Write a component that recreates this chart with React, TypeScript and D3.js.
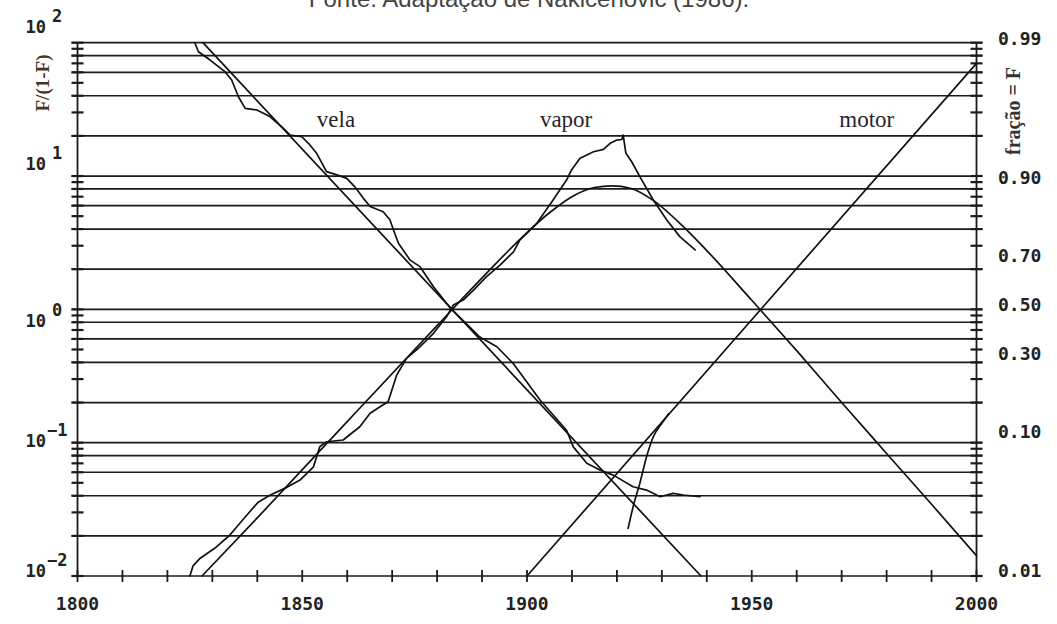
import React from 'react';
import * as d3 from 'd3';

// ---------- data ----------
const yearDomain = [1800, 2000];
const ratioDomain = [0.01, 100];
const xTickYears = [1800, 1810, 1820, 1830, 1840, 1850, 1860, 1870, 1880, 1890, 1900, 1910, 1920, 1930, 1940, 1950, 1960, 1970, 1980, 1990, 2000];
const xLabelYears = [1800, 1850, 1900, 1950, 2000];
const decadeExponents = [-2, -1, 0, 1];
const gridMultipliers = [1, 2, 4, 6, 8];
const tickMultipliers = [1, 2, 3, 4, 5, 6, 7, 8, 9];
const leftExponents = [2, 1, 0, -1, -2];
const rightFractions = [0.99, 0.9, 0.7, 0.5, 0.3, 0.1, 0.01];
const rightLabels = ['0.99', '0.90', '0.70', '0.50', '0.30', '0.10', '0.01'];

const curveNames = ['vela', 'vapor', 'motor'];
const curveNameYears = [1857.5, 1908.7, 1975.6];
const curveNameValue = 27;

// fitted logistic lines (F/(1-F))
const velaFitYears = [1827.9, 1938.7];
const velaFitValues = [100, 0.01];
const motorFitYears = [1900, 2000];
const motorFitValues = [0.01, 70];
const vaporFitYears = [1827.7, 1840, 1860, 1880, 1890, 1900, 1905, 1910, 1915, 1919, 1923, 1928, 1935, 1940, 1950, 1960, 1970, 1980, 1990, 2000];
const vaporFitValues = [0.01, 0.0273, 0.144, 0.755, 1.72, 3.77, 5.3, 7.0, 8.2, 8.45, 8.1, 6.6, 4.1, 2.76, 1.17, 0.49, 0.2, 0.083, 0.0345, 0.0142];

// observed data
const velaYears = [1826.1, 1826.9, 1829.5, 1832.8, 1834.3, 1835.8, 1837.3, 1839.9, 1842.8, 1845.8, 1847.3, 1849.9, 1851.7, 1853.2, 1855.4, 1857.7, 1859.9, 1861.7, 1863.6, 1865.1, 1868.0, 1869.5, 1870.3, 1871.4, 1874.0, 1876.2, 1879.2, 1882.1, 1883.2, 1886.2, 1889.5, 1893.3, 1896.9, 1902.9, 1908.8, 1910.3, 1913.3, 1916.2, 1919.2, 1923.6, 1926.6, 1929.6, 1932.5, 1934.8, 1938.5];
const velaValues = [100, 85.6, 74.1, 60.6, 52.5, 39.3, 32.2, 31.3, 27.9, 22.8, 20.3, 19.7, 17.1, 14.8, 10.8, 10.2, 9.6, 8.3, 6.8, 5.9, 5.4, 4.7, 3.94, 3.13, 2.34, 2.09, 1.48, 1.11, 1.0, 0.8, 0.62, 0.524, 0.394, 0.209, 0.124, 0.093, 0.07, 0.0623, 0.0571, 0.0467, 0.0441, 0.0393, 0.0417, 0.0405, 0.0393];

const vaporYears = [1825.0, 1825.7, 1827.3, 1830.6, 1833.9, 1837.3, 1840.2, 1842.8, 1846.2, 1849.5, 1852.5, 1853.9, 1855.4, 1859.1, 1862.8, 1865.1, 1867.3, 1869.1, 1871.0, 1873.2, 1876.2, 1879.2, 1882.1, 1883.6, 1885.8, 1888.1, 1891.0, 1894.0, 1897.0, 1898.4, 1902.2, 1905.8, 1908.8, 1909.9, 1911.8, 1914.8, 1917.0, 1918.5, 1920.0, 1921.1, 1921.4, 1922.0, 1923.3, 1925.1, 1928.1, 1931.1, 1934.0, 1937.4];
const vaporValues = [0.01, 0.0119, 0.0136, 0.0162, 0.0203, 0.0277, 0.0358, 0.0404, 0.0456, 0.0524, 0.0659, 0.0932, 0.1016, 0.1047, 0.1317, 0.166, 0.186, 0.203, 0.321, 0.429, 0.524, 0.661, 0.88, 1.077, 1.174, 1.396, 1.757, 2.15, 2.7, 3.31, 4.42, 6.61, 9.33, 11.1, 13.6, 15.2, 15.85, 17.6, 18.6, 18.8, 20.3, 14.8, 12.8, 9.9, 6.61, 4.68, 3.51, 2.79];

const motorYears = [1922.5, 1923.6, 1925.1, 1926.6, 1928.1, 1930.0, 1931.5];
const motorValues = [0.0228, 0.033, 0.0495, 0.0784, 0.1107, 0.1396, 0.165];

// ---------- chart ----------
const W = 1057;
const H = 624;
const left = 77.5;
const right = 976.5;
const top = 42.7;
const bottom = 576;

const leftLabelNudge = [-16, -12, 12, -2, -5];
const INK = '#1b1b1b';

export default function App() {
  const x = d3.scaleLinear().domain(yearDomain).range([left, right]);
  const y = d3.scaleLog().domain(ratioDomain).range([bottom, top]);

  const gridValues: number[] = [];
  decadeExponents.forEach((e) => gridMultipliers.forEach((m) => gridValues.push(m * Math.pow(10, e))));
  gridValues.push(100);
  const tickValues: number[] = [];
  decadeExponents.forEach((e) => tickMultipliers.forEach((m) => tickValues.push(m * Math.pow(10, e))));
  tickValues.push(100);

  const line = d3
    .line<[number, number]>()
    .x((d) => x(d[0]))
    .y((d) => y(d[1]));
  const smooth = d3
    .line<[number, number]>()
    .x((d) => x(d[0]))
    .y((d) => y(d[1]))
    .curve(d3.curveMonotoneX);

  const zip = (a: number[], b: number[]) => a.map((v, i) => [v, b[i]] as [number, number]);

  const paths = [
    { d: line(zip(velaFitYears, velaFitValues)) },
    { d: line(zip(motorFitYears, motorFitValues)) },
    { d: smooth(zip(vaporFitYears, vaporFitValues)) },
    { d: line(zip(velaYears, velaValues)) },
    { d: line(zip(vaporYears, vaporValues)) },
    { d: smooth(zip(motorYears, motorValues)) },
  ];

  const mono = "'DejaVu Sans Mono', monospace";
  const serif = "'Liberation Serif', 'DejaVu Serif', serif";

  return (
    <svg width={W} height={H} style={{ position: 'absolute', left: 0, top: 0, background: '#fff' }}>
      <rect x={0} y={0} width={W} height={H} fill="#fff" />
      <text x={529} y={7} textAnchor="middle" fontFamily="'Liberation Sans', Arial, sans-serif" fontSize={24} fill="#444">
        Fonte: Adaptação de Nakicenovic (1986).
      </text>

      {/* gridlines */}
      {gridValues.map((v, i) => (
        <line key={'g' + i} x1={left - 6} x2={right + 6} y1={y(v)} y2={y(v)} stroke={INK} strokeWidth={1.7} />
      ))}
      {/* axis lines */}
      <line x1={left} x2={left} y1={top} y2={bottom} stroke={INK} strokeWidth={1.8} />
      <line x1={right} x2={right} y1={top} y2={bottom} stroke={INK} strokeWidth={1.8} />
      {tickValues.map((v, i) => (
        <g key={'t' + i}>
          <line x1={left - 6} x2={left + 6} y1={y(v)} y2={y(v)} stroke={INK} strokeWidth={2.2} />
          <line x1={right - 6} x2={right + 6} y1={y(v)} y2={y(v)} stroke={INK} strokeWidth={2.2} />
        </g>
      ))}
      {xTickYears.map((t) => (
        <line key={'x' + t} x1={x(t)} x2={x(t)} y1={bottom - 6} y2={bottom + 6} stroke={INK} strokeWidth={1.8} />
      ))}

      {/* curves */}
      {paths.map((p, i) => (
        <path key={'p' + i} d={p.d || ''} fill="none" stroke="#111" strokeWidth={1.7} strokeLinejoin="round" strokeLinecap="round" />
      ))}

      {/* bottom labels */}
      {xLabelYears.map((t) => (
        <text key={'xl' + t} x={x(t)} y={bottom + 28} dy="0.36em" textAnchor="middle" fontFamily={mono} fontWeight="bold" fontSize={18} fill="#222">
          {t}
        </text>
      ))}

      {/* left labels */}
      {leftExponents.map((e, i) => {
        const yy = y(Math.pow(10, e)) + leftLabelNudge[i];
        return (
          <g key={'ll' + e}>
            <text x={46} y={yy} dy="0.36em" textAnchor="end" fontFamily={mono} fontWeight="bold" fontSize={17} fill="#222">
              10
            </text>
            <text x={e < 0 ? 47 : 52} y={yy - 11} dy="0.36em" textAnchor="start" fontFamily={mono} fontWeight="bold" fontSize={17} fill="#222">
              {e < 0 ? '−' + Math.abs(e) : String(e)}
            </text>
          </g>
        );
      })}

      {/* right labels */}
      {rightFractions.map((f, i) => (
        <text key={'rl' + i} x={998} y={y(f / (1 - f)) - 5} dy="0.36em" textAnchor="start" fontFamily={mono} fontWeight="bold" fontSize={18} fill="#222">
          {rightLabels[i]}
        </text>
      ))}

      {/* axis titles */}
      <text transform={`translate(42,${83}) rotate(-90)`} textAnchor="middle" dy="0.36em" fontFamily={serif} fontWeight="bold" fontSize={19} fill="#4a3520">
        F/(1-F)
      </text>
      <text transform={`translate(1013,${111}) rotate(-90)`} textAnchor="middle" dy="0.36em" fontFamily={serif} fontWeight="bold" fontSize={20} fill="#333">
        fração = F
      </text>

      {/* curve names */}
      {curveNames.map((n, i) => (
        <text key={'cn' + n} x={x(curveNameYears[i])} y={y(curveNameValue)} dy="0.36em" textAnchor="middle" fontFamily={serif} fontSize={23} fill="#2a1f2a">
          {n}
        </text>
      ))}
    </svg>
  );
}
